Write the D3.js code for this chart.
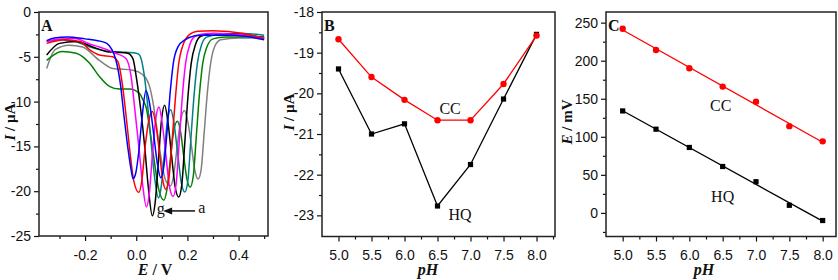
<!DOCTYPE html>
<html>
<head>
<meta charset="utf-8">
<script src="https://cdn.jsdelivr.net/npm/d3@7"></script>
<style>
  body { margin: 0; background: #fff; }
  svg { display: block; font-family: "Liberation Serif", "Times New Roman", serif; }
  .tick text { font-size: 14px; fill: #111; }
  .tick line { stroke: #111; stroke-width: 1.2; }
  .frame { fill: none; stroke: #222; stroke-width: 1.5; }
  .title { font-size: 16px; font-weight: bold; fill: #111; }
  .ytitle { font-size: 15px; font-weight: bold; fill: #111; }
  .note { font-size: 16px; fill: #111; }
</style>
</head>
<body>
<svg id="chart" width="838" height="280"></svg>
<script>
// ---------------------------------------------------------------------------
// Panel A - DPV curves, [E (V), I (uA)] (a = pH 5 ... g = pH 8)
// ---------------------------------------------------------------------------
const curveA = [ // gray, pH 5.0
    [-0.350, -6.3], [-0.317, -4.2], [-0.262, -3.7], [-0.210, -3.9], [-0.144, -5.4], [-0.092, -6.3],
    [-0.013, -6.5], [0.026, -7.0], [0.052, -8.3], [0.068, -10.5], [0.083, -13.5], [0.098, -16.5],
    [0.115, -18.8], [0.134, -19.4], [0.146, -18.3], [0.159, -15.3], [0.173, -12.2], [0.188, -11.0],
    [0.202, -12.3], [0.216, -15.0], [0.230, -17.8], [0.242, -18.65], [0.254, -17.5], [0.266, -13.3],
    [0.278, -9.0], [0.291, -5.7], [0.306, -3.9], [0.330, -3.1], [0.400, -2.9], [0.500, -2.9]
];
const curveB = [ // green, pH 5.5
    [-0.350, -5.4], [-0.290, -4.4], [-0.235, -4.6], [-0.183, -5.7], [-0.144, -7.2], [-0.105, -8.3],
    [-0.066, -8.6], [-0.026, -8.6], [0.013, -9.1], [0.026, -9.8], [0.040, -10.8], [0.055, -13.5],
    [0.070, -16.5], [0.088, -19.8], [0.108, -21.0], [0.120, -19.8], [0.133, -16.5], [0.147, -13.2],
    [0.161, -12.2], [0.174, -13.5], [0.186, -16.2], [0.199, -18.8], [0.211, -19.55], [0.223, -18.3],
    [0.235, -13.8], [0.247, -9.2], [0.260, -5.7], [0.275, -4.0], [0.300, -3.0], [0.350, -2.8], [0.500, -2.75]
];
const curveC = [ // teal, pH 6.0
    [-0.350, -3.3], [-0.300, -3.1], [-0.240, -3.3], [-0.180, -3.9], [-0.105, -4.4], [-0.040, -4.5],
    [0.000, -4.6], [0.013, -4.8], [0.030, -6.8], [0.045, -10.5], [0.058, -14.5], [0.072, -18.5],
    [0.087, -20.75], [0.099, -19.2], [0.111, -15.5], [0.123, -11.8], [0.135, -10.9], [0.148, -12.5],
    [0.162, -15.8], [0.176, -19.0], [0.190, -20.1], [0.202, -18.8], [0.214, -14.0], [0.226, -9.3],
    [0.239, -5.7], [0.256, -3.6], [0.275, -2.8], [0.320, -2.5], [0.420, -2.4], [0.500, -2.6]
];
const curveD = [ // black, pH 6.5
    [-0.350, -4.8], [-0.300, -3.5], [-0.235, -3.3], [-0.170, -3.9], [-0.118, -4.4], [-0.078, -4.5],
    [-0.033, -4.6], [-0.013, -5.2], [0.000, -7.2], [0.018, -11.0], [0.033, -15.0], [0.047, -19.5],
    [0.063, -22.75], [0.075, -21.0], [0.087, -16.5], [0.099, -12.0], [0.111, -10.4], [0.124, -12.3],
    [0.138, -16.0], [0.152, -19.5], [0.166, -20.66], [0.178, -19.3], [0.190, -14.5], [0.202, -9.5],
    [0.215, -5.7], [0.232, -3.6], [0.252, -2.7], [0.300, -2.4], [0.420, -2.5], [0.500, -2.9]
];
const curveE = [ // magenta, pH 7.0
    [-0.350, -3.3], [-0.300, -3.0], [-0.240, -2.95], [-0.180, -3.6], [-0.144, -3.9], [-0.080, -4.6],
    [-0.040, -5.2], [-0.020, -7.2], [-0.005, -11.0], [0.010, -15.0], [0.024, -19.0], [0.040, -21.75],
    [0.052, -20.0], [0.063, -16.0], [0.076, -12.0], [0.089, -10.6], [0.102, -12.5], [0.116, -16.0],
    [0.130, -19.5], [0.144, -20.6], [0.156, -19.2], [0.168, -14.5], [0.180, -9.5], [0.193, -5.7],
    [0.210, -3.6], [0.230, -2.7], [0.280, -2.4], [0.400, -2.5], [0.500, -2.9]
];
const curveF = [ // red, pH 7.5
    [-0.350, -3.5], [-0.280, -3.1], [-0.220, -3.3], [-0.183, -4.2], [-0.144, -4.8], [-0.092, -5.0],
    [-0.072, -5.5], [-0.055, -7.9], [-0.040, -11.5], [-0.025, -15.5], [-0.010, -18.8], [0.010, -20.15],
    [0.022, -18.8], [0.035, -15.0], [0.050, -12.0], [0.063, -11.1], [0.078, -12.8], [0.092, -16.0],
    [0.104, -18.8], [0.116, -19.8], [0.128, -18.5], [0.140, -14.5], [0.152, -10.0], [0.165, -6.0],
    [0.185, -3.5], [0.205, -2.6], [0.240, -2.15], [0.300, -2.1], [0.420, -2.4], [0.500, -3.0]
];
const curveG = [ // blue, pH 8.0
    [-0.350, -3.2], [-0.320, -2.9], [-0.270, -2.8], [-0.200, -3.0], [-0.150, -3.2], [-0.115, -3.5],
    [-0.095, -4.2], [-0.080, -5.3], [-0.062, -8.0], [-0.047, -11.8], [-0.032, -15.3], [-0.020, -17.6],
    [-0.012, -18.6], [-0.002, -18.0], [0.010, -15.6], [0.022, -12.0], [0.038, -8.8], [0.054, -10.5],
    [0.068, -13.6], [0.082, -16.8], [0.096, -18.5], [0.108, -17.2], [0.120, -13.5], [0.132, -9.2],
    [0.145, -5.7], [0.163, -3.9], [0.190, -3.1], [0.250, -2.6], [0.380, -2.6], [0.500, -3.1]
];
const dpvCurves = [curveA, curveB, curveC, curveD, curveE, curveF, curveG];
const dpvColors = ['#808080', '#008000', '#008080', '#000000', '#ff00ff', '#ff0000', '#0000ff'];

// ---------------------------------------------------------------------------
// Panels B and C - peak current and peak potential vs pH
// ---------------------------------------------------------------------------
const pH = [5.0, 5.5, 6.0, 6.5, 7.0, 7.5, 8.0];
const ccCurrent = [-18.67, -19.6, -20.16, -20.66, -20.66, -19.77, -18.58];
const hqCurrent = [-19.4, -21.0, -20.75, -22.77, -21.75, -20.14, -18.55];
const ccPotential = [242, 214, 190, 166, 146, 114, 94];
const hqPotential = [134, 110, 86, 61, 41, 10, -10];

// tick values
const aTicksX = [-0.2, 0.0, 0.2, 0.4];
const aMinorX = [-0.3, -0.1, 0.1, 0.3, 0.5];
const aTicksY = [0, -5, -10, -15, -20, -25];
const aMinorY = [-2.5, -7.5, -12.5, -17.5, -22.5];
const phTicks = [5.0, 5.5, 6.0, 6.5, 7.0, 7.5, 8.0];
const phMinor = [5.25, 5.75, 6.25, 6.75, 7.25, 7.75, 8.25];
const bTicksY = [-18, -19, -20, -21, -22, -23];
const bMinorY = [-18.5, -19.5, -20.5, -21.5, -22.5];
const cTicksY = [0, 50, 100, 150, 200, 250];
const cMinorY = [-25, 25, 75, 125, 175, 225];

const svg = d3.select('#chart');

function addAxes(g, x, y, o) {
    const yb = y.range()[0];
    const xl = x.range()[0];
    g.append('g').attr('transform', `translate(0,${yb})`)
        .call(d3.axisBottom(x).tickValues(o.xMajor).tickFormat(o.xFmt).tickSize(5).tickPadding(9))
        .call(a => a.select('.domain').remove());
    g.append('g').attr('transform', `translate(0,${yb})`)
        .call(d3.axisBottom(x).tickValues(o.xMinor.filter(v => v < x.domain()[1])).tickFormat('').tickSize(3))
        .call(a => a.select('.domain').remove());
    g.append('g').attr('transform', `translate(${xl},0)`)
        .call(d3.axisLeft(y).tickValues(o.yMajor).tickFormat(o.yFmt).tickSize(5).tickPadding(3))
        .call(a => a.select('.domain').remove());
    g.append('g').attr('transform', `translate(${xl},0)`)
        .call(d3.axisLeft(y).tickValues(o.yMinor).tickFormat('').tickSize(3))
        .call(a => a.select('.domain').remove());

    // box
    g.append('rect').attr('class', 'frame')
        .attr('x', xl).attr('y', y.range()[1])
        .attr('width', x.range()[1] - xl)
        .attr('height', yb - y.range()[1]);

    // panel letter
    g.append('text').attr('class', 'title')
        .attr('x', xl + 2).attr('y', y.range()[1] + 19)
        .text(o.letter);
}

function xTitle(g, cx, parts) {
    const t = g.append('text').attr('class', 'title')
        .attr('x', cx).attr('y', 275).attr('text-anchor', 'middle');
    parts.forEach(p => t.append('tspan').attr('font-style', p[1] ? 'italic' : null).text(p[0]));
}

function yTitle(g, cx, cy, parts) {
    const t = g.append('text').attr('class', 'ytitle')
        .attr('transform', `translate(${cx},${cy}) rotate(-90)`)
        .attr('text-anchor', 'middle');
    parts.forEach(p => t.append('tspan').attr('font-style', p[1] ? 'italic' : null).text(p[0]));
}

const fmt1 = d => d.toFixed(1);
const fmt0 = d => String(d);

// ============================ Panel A ============================
(function drawA() {
    const g = svg.append('g');
    const x = d3.scaleLinear().domain([-0.38, 0.515]).range([39, 268]);
    const y = d3.scaleLinear().domain([-25, 0]).range([236, 12]);

    g.append('clipPath').attr('id', 'clipA')
        .append('rect').attr('x', 39).attr('y', 12).attr('width', 229).attr('height', 224);

    const line = d3.line()
        .x(d => x(d[0]))
        .y(d => y(d[1]))
        .curve(d3.curveMonotoneX);

    g.append('g').attr('clip-path', 'url(#clipA)')
        .selectAll('path')
        .data(dpvCurves)
        .join('path')
        .attr('d', line)
        .attr('fill', 'none')
        .attr('stroke', (d, i) => dpvColors[i])
        .attr('stroke-width', 1.5);

    addAxes(g, x, y, {
        xMajor: aTicksX, xMinor: aMinorX, xFmt: fmt1,
        yMajor: aTicksY, yMinor: aMinorY, yFmt: fmt0, letter: 'A'
    });

    // g <- a annotation
    g.append('text').attr('class', 'note').attr('x', x(0.080)).attr('y', y(-22.6)).text('g');
    g.append('text').attr('class', 'note').attr('x', x(0.242)).attr('y', y(-22.45)).text('a');
    g.append('line')
        .attr('x1', x(0.230)).attr('x2', x(0.118))
        .attr('y1', y(-22.2)).attr('y2', y(-22.2))
        .attr('stroke', '#111').attr('stroke-width', 1.5);
    g.append('path')
        .attr('d', `M${x(0.105)},${y(-22.2)} l9,-3.5 l0,7 z`)
        .attr('fill', '#111');

    xTitle(g, 155, [['E', true], [' / V', false]]);
    yTitle(g, 15, 122, [['I', true], [' / \u00b5A', false]]);
})();

// ============================ Panel B ============================
(function drawB() {
    const g = svg.append('g');
    const x = d3.scaleLinear().domain([4.75, 8.28]).range([322, 555]);
    const y = d3.scaleLinear().domain([-23.52, -18]).range([236.5, 12]);

    const line = d3.line().x(d => x(d[0])).y(d => y(d[1]));
    const cc = pH.map((p, i) => [p, ccCurrent[i]]);
    const hq = pH.map((p, i) => [p, hqCurrent[i]]);

    g.append('path').attr('d', line(hq)).attr('fill', 'none').attr('stroke', '#000').attr('stroke-width', 1.3);
    g.append('path').attr('d', line(cc)).attr('fill', 'none').attr('stroke', '#ff0000').attr('stroke-width', 1.3);

    g.selectAll('rect.hq').data(hq).join('rect').attr('class', 'hq')
        .attr('x', d => x(d[0]) - 2.6).attr('y', d => y(d[1]) - 2.6)
        .attr('width', 5.2).attr('height', 5.2).attr('fill', '#000');
    g.selectAll('circle.cc').data(cc).join('circle').attr('class', 'cc')
        .attr('cx', d => x(d[0])).attr('cy', d => y(d[1]))
        .attr('r', 3.2).attr('fill', '#ff0000');

    g.append('text').attr('class', 'note').attr('text-anchor', 'middle')
        .attr('x', x(6.69)).attr('y', y(-20.5)).text('CC');
    g.append('text').attr('class', 'note').attr('text-anchor', 'middle')
        .attr('x', x(6.84)).attr('y', y(-23.12)).text('HQ');

    addAxes(g, x, y, {
        xMajor: phTicks, xMinor: phMinor, xFmt: fmt1,
        yMajor: bTicksY, yMinor: bMinorY, yFmt: fmt0, letter: 'B'
    });

    xTitle(g, 428, [['pH', true]]);
    yTitle(g, 294, 112, [['I', true], [' / \u00b5A', false]]);
})();

// ============================ Panel C ============================
(function drawC() {
    const g = svg.append('g');
    const x = d3.scaleLinear().domain([4.75, 8.2]).range([606, 836]);
    const y = d3.scaleLinear().domain([-31, 264]).range([236.5, 12]);

    const cc = pH.map((p, i) => [p, ccPotential[i]]);
    const hq = pH.map((p, i) => [p, hqPotential[i]]);

    // least-squares fit lines drawn from 5.0 to 8.0
    function fit(pts) {
        const mx = d3.mean(pts, d => d[0]);
        const my = d3.mean(pts, d => d[1]);
        const b = d3.sum(pts, d => (d[0] - mx) * (d[1] - my)) / d3.sum(pts, d => (d[0] - mx) ** 2);
        const x0 = d3.min(pts, d => d[0]), x1 = d3.max(pts, d => d[0]);
        return [[x0, my + b * (x0 - mx)], [x1, my + b * (x1 - mx)]];
    }
    const line = d3.line().x(d => x(d[0])).y(d => y(d[1]));

    g.append('path').attr('d', line(fit(hq))).attr('fill', 'none').attr('stroke', '#000').attr('stroke-width', 1.3);
    g.append('path').attr('d', line(fit(cc))).attr('fill', 'none').attr('stroke', '#ff0000').attr('stroke-width', 1.3);

    g.selectAll('rect.hq').data(hq).join('rect').attr('class', 'hq')
        .attr('x', d => x(d[0]) - 2.6).attr('y', d => y(d[1]) - 2.6)
        .attr('width', 5.2).attr('height', 5.2).attr('fill', '#000');
    g.selectAll('circle.cc').data(cc).join('circle').attr('class', 'cc')
        .attr('cx', d => x(d[0])).attr('cy', d => y(d[1]))
        .attr('r', 3.2).attr('fill', '#ff0000');

    g.append('text').attr('class', 'note').attr('text-anchor', 'middle')
        .attr('x', x(6.47)).attr('y', y(134)).text('CC');
    g.append('text').attr('class', 'note').attr('text-anchor', 'middle')
        .attr('x', x(6.5)).attr('y', y(14)).text('HQ');

    addAxes(g, x, y, {
        xMajor: phTicks, xMinor: phMinor, xFmt: fmt1,
        yMajor: cTicksY, yMinor: cMinorY, yFmt: fmt0, letter: 'C'
    });

    xTitle(g, 704, [['pH', true]]);
    yTitle(g, 572, 122, [['E', true], [' / mV', false]]);
})();
</script>
</body>
</html>
